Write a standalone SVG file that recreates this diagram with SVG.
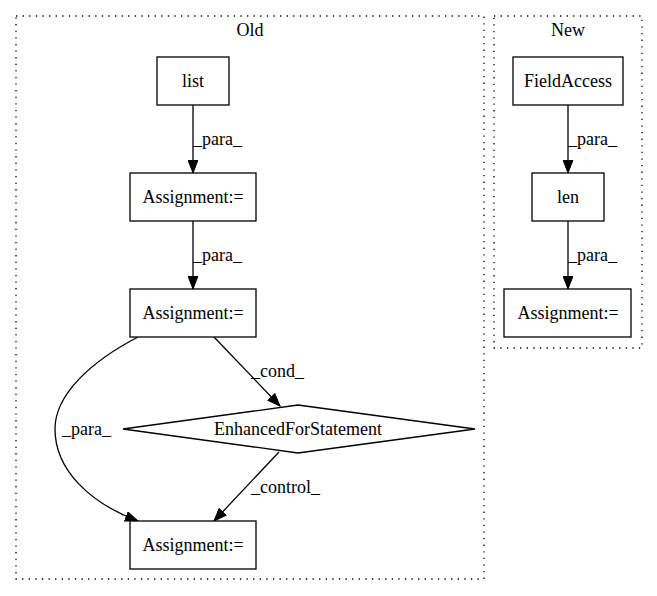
<svg xmlns="http://www.w3.org/2000/svg" width="657" height="596" viewBox="0 0 657 596">
<defs>
<marker id="arr" markerWidth="14" markerHeight="11" refX="13" refY="5.5" orient="auto" markerUnits="userSpaceOnUse" viewBox="0 0 14 11">
<path d="M0.5,0.7 L13,5.5 L0.5,10.3 Z" fill="#000" stroke="#000" stroke-width="1"/>
</marker>
</defs>
<style>
text{font-family:"Liberation Serif","Times New Roman",Times,"DejaVu Serif",serif;font-size:18px;fill:#000}
.n{fill:#fff;stroke:#000;stroke-width:1.3}
.c{fill:none;stroke:#000;stroke-width:1.3;stroke-dasharray:1.3,5.3}
.e{fill:none;stroke:#000;stroke-width:1.3;marker-end:url(#arr)}
.m{text-anchor:middle}
</style>
<rect width="657" height="596" fill="#fff"/>
<g id="cluster_old">
<rect class="c" x="16" y="16" width="468" height="563"/>
<text class="m" x="250" y="36">Old</text>
</g>
<g id="cluster_new">
<rect class="c" x="494" y="16" width="148" height="332"/>
<text class="m" x="568" y="36">New</text>
</g>
<g id="edges">
<path class="e" d="M193,105 L193,173"/>
<text x="193" y="145">_para_</text>
<path class="e" d="M193,221 L193,289"/>
<text x="193" y="261">_para_</text>
<path class="e" d="M214,337 L280,406"/>
<text x="251" y="377">_cond_</text>
<path class="e" d="M138,337 C90,362 55,395 55,429 C55,470 90,503 138,521"/>
<text x="62" y="435">_para_</text>
<path class="e" d="M279,452 L214,521"/>
<text x="251" y="493">_control_</text>
<path class="e" d="M568,105 L568,173"/>
<text x="568" y="145">_para_</text>
<path class="e" d="M568,221 L568,289"/>
<text x="568" y="261">_para_</text>
</g>
<g id="list">
<rect class="n" x="157" y="57" width="72" height="48"/>
<text class="m" x="193" y="87">list</text>
</g>
<g id="assign1">
<rect class="n" x="130" y="173" width="126" height="48"/>
<text class="m" x="193" y="203">Assignment:=</text>
</g>
<g id="assign2">
<rect class="n" x="130" y="289" width="126" height="48"/>
<text class="m" x="193" y="319">Assignment:=</text>
</g>
<g id="enhancedfor">
<polygon class="n" points="298,405 475,429 298,453 123,429"/>
<text class="m" x="298" y="435">EnhancedForStatement</text>
</g>
<g id="assign3">
<rect class="n" x="130" y="521" width="126" height="48"/>
<text class="m" x="193" y="551">Assignment:=</text>
</g>
<g id="fieldaccess">
<rect class="n" x="513" y="57" width="110" height="48"/>
<text class="m" x="568" y="87">FieldAccess</text>
</g>
<g id="len">
<rect class="n" x="532" y="173" width="72" height="48"/>
<text class="m" x="568" y="203">len</text>
</g>
<g id="assign_new">
<rect class="n" x="504" y="289" width="127" height="48"/>
<text class="m" x="568" y="319">Assignment:=</text>
</g>
</svg>
